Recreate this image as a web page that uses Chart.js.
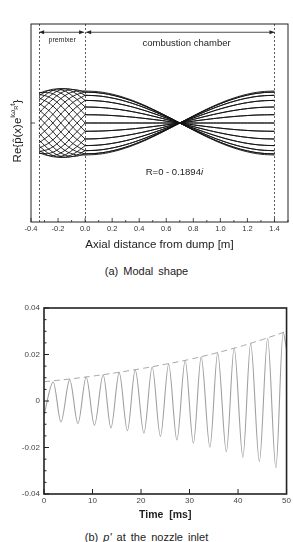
<!DOCTYPE html>
<html>
<head>
<meta charset="utf-8">
<script src="https://cdn.jsdelivr.net/npm/chart.js@4.4.1/dist/chart.umd.min.js"></script>
<style>
  body { margin: 0; background: #fff; width: 293px; height: 542px; overflow: hidden; position: relative; font-family: "Liberation Sans", Arial, sans-serif; }
  #modal { position: absolute; left: 0; top: 0; }
  #pulse { position: absolute; left: 0; top: 290px; }
  .cap { position: absolute; left: 0; width: 293px; text-align: center; font-size: 11px; line-height: 13px; color: #222; word-spacing: 2px; }
</style>
</head>
<body>
<canvas id="modal" width="293" height="255"></canvas>
<div class="cap" style="top:265px">(a) Modal shape</div>
<canvas id="pulse" width="293" height="240"></canvas>
<div class="cap" style="top:531px">(b) <i>p'</i> at the nozzle inlet</div>
<script>
// (a) mode shape p^(x) (real / imaginary part), read off the picture
// premixer part
const premixX  = [-0.34, -0.255, -0.17, -0.085, 0];
const premixRe = [0.07, 0.44, 0.77, 0.95, 0.97];
const premixIm = [-0.92, -0.91, -0.71, -0.37, 0];
// combustion chamber part (standing wave, real)
const chamberX  = [0, 0.1, 0.2, 0.3, 0.4, 0.5, 0.6, 0.7, 0.8, 0.9, 1.0, 1.1, 1.2, 1.3, 1.4];
const chamberRe = [0.97, 0.946, 0.874, 0.758, 0.605, 0.421, 0.216, 0, -0.216, -0.421, -0.605, -0.758, -0.874, -0.946, -0.97];
// time phases (omega_R t) of the plotted snapshots, degrees
const phaseDeg = [0, 15, 30, 45, 60, 75, 90, 105, 120, 135, 150, 165, 180, 195, 210, 225, 240, 255, 270, 285, 300, 315, 330, 345];
const xTicksA = [-0.4, -0.2, 0, 0.2, 0.4, 0.6, 0.8, 1.0, 1.2, 1.4];
const sectionX = [-0.34, 0, 1.4]; // premixer inlet, dump plane, chamber exit

// (b) pressure at the dump plane: extrema of the oscillation and dashed envelope
const pTime  = [0, 1.9, 3.5, 5.3, 7.0, 8.7, 10.4, 12.2, 13.8, 15.5, 17.2, 18.8, 20.6, 22.3, 24.0, 25.7, 27.4, 29.1, 30.8, 32.4, 34.2, 35.8, 37.6, 39.2, 41.0, 42.6, 44.4, 46.1, 47.8, 49.3, 50];
const pValue = [-0.006, 0.0082, -0.0090, 0.0092, -0.0097, 0.0103, -0.0104, 0.0113, -0.0116, 0.0122, -0.0128, 0.0134, -0.0138, 0.0146, -0.0152, 0.0158, -0.0168, 0.0174, -0.0182, 0.0190, -0.0199, 0.0206, -0.0218, 0.0228, -0.0242, 0.0248, -0.0260, 0.0270, -0.0287, 0.0296, 0.022];
const envTime  = [0, 5, 10, 15, 20, 25, 30, 35, 40, 45, 50];
const envValue = [0.0083, 0.0094, 0.0107, 0.0122, 0.0139, 0.0158, 0.0179, 0.0204, 0.0232, 0.0264, 0.0300];
const xTicksB = [0, 10, 20, 30, 40, 50];
const yTicksB = [-0.04, -0.02, 0, 0.02, 0.04];

const FONT = '"Liberation Sans", Arial, sans-serif';

// text made of runs (for sub/superscripts), optionally rotated
function drawRuns(ctx, runs, cx, cy, rotate, base) {
  ctx.save();
  ctx.translate(cx, cy);
  if (rotate) ctx.rotate(-Math.PI / 2);
  ctx.textAlign = 'left';
  ctx.textBaseline = 'alphabetic';
  let total = 0;
  runs.forEach(r => { ctx.font = r.size + 'px ' + FONT; r.w = ctx.measureText(r.text).width; total += r.w; });
  let x = -total / 2;
  runs.forEach(r => {
    ctx.font = (r.italic ? 'italic ' : '') + r.size + 'px ' + FONT;
    ctx.fillText(r.text, x, base + (r.dy || 0));
    x += r.w;
  });
  ctx.restore();
}

function frame(ctx, a, lw) {
  ctx.save();
  ctx.strokeStyle = '#222';
  ctx.lineWidth = lw;
  ctx.strokeRect(a.left, a.top, a.right - a.left, a.bottom - a.top);
  ctx.restore();
}

function xTicksIn(ctx, scale, a, values, len) {
  ctx.beginPath();
  values.forEach(v => {
    const px = scale.getPixelForValue(v);
    ctx.moveTo(px, a.bottom);
    ctx.lineTo(px, a.bottom - len);
  });
  ctx.stroke();
}

function yTicksIn(ctx, scale, a, values, len) {
  ctx.beginPath();
  values.forEach(v => {
    const py = scale.getPixelForValue(v);
    ctx.moveTo(a.left, py);
    ctx.lineTo(a.left + len, py);
  });
  ctx.stroke();
}

function arrow(ctx, x1, x2, y) {
  ctx.beginPath();
  ctx.moveTo(x1, y); ctx.lineTo(x2, y);
  ctx.stroke();
  [[x1, 1], [x2, -1]].forEach(([x, d]) => {
    ctx.beginPath();
    ctx.moveTo(x, y);
    ctx.lineTo(x + 5 * d, y - 2);
    ctx.lineTo(x + 5 * d, y + 2);
    ctx.closePath();
    ctx.fill();
  });
}

const modalDecor = {
  id: 'modalDecor',
  beforeDatasetsDraw(chart) {
    const { ctx, chartArea: a, scales: { x } } = chart;
    ctx.save();
    ctx.strokeStyle = '#333';
    ctx.lineWidth = 0.8;
    ctx.setLineDash([2, 2]);
    sectionX.forEach(v => {
      const px = Math.round(x.getPixelForValue(v)) + 0.5;
      ctx.beginPath();
      ctx.moveTo(px, a.top);
      ctx.lineTo(px, a.bottom);
      ctx.stroke();
    });
    ctx.restore();
  },
  afterDraw(chart) {
    const { ctx, chartArea: a, scales: { x, y } } = chart;
    frame(ctx, a, 1);
    ctx.save();
    ctx.strokeStyle = '#222';
    ctx.fillStyle = '#222';
    ctx.lineWidth = 0.8;
    xTicksIn(ctx, x, a, xTicksA, 4);
    xTicksIn(ctx, x, a, xTicksA.map(v => v + 0.1), 2);
    yTicksIn(ctx, y, a, [0], 4);

    // section arrows
    const ay = y.getPixelForValue(2.75);
    arrow(ctx, x.getPixelForValue(sectionX[0]), x.getPixelForValue(sectionX[1]) - 1, ay);
    arrow(ctx, x.getPixelForValue(sectionX[1]) + 1, x.getPixelForValue(sectionX[2]), ay);
    ctx.textAlign = 'center';
    ctx.textBaseline = 'middle';
    ctx.font = '7px ' + FONT;
    ctx.fillText('premixer', x.getPixelForValue(-0.17), y.getPixelForValue(2.5));
    ctx.font = '9.5px ' + FONT;
    ctx.fillText('combustion chamber', x.getPixelForValue(0.75), y.getPixelForValue(2.42));

    drawRuns(ctx, [
      { text: 'R=0 - 0.1894', size: 9.5 },
      { text: 'i', size: 9.5, italic: true }
    ], x.getPixelForValue(0.66), y.getPixelForValue(-1.48), false, 3.5);

    drawRuns(ctx, [
      { text: 'Re{p\u0302(x)e', size: 11.5 },
      { text: 'i\u03c9', size: 8, dy: -6 },
      { text: 'R', size: 5.5, dy: -3 },
      { text: 't', size: 8, dy: -6 },
      { text: '}', size: 11.5 }
    ], 17, 131, true, 4);
    ctx.restore();
  }
};

// Re{p^(x) e^(i w t)} at each snapshot, premixer and chamber as separate lines
const modalSets = [];
phaseDeg.forEach(d => {
  const r = d * Math.PI / 180;
  modalSets.push({
    data: premixX.map((xv, i) => ({ x: xv, y: premixRe[i] * Math.cos(r) - premixIm[i] * Math.sin(r) })),
    borderColor: '#111', borderWidth: 0.9, pointRadius: 0, tension: 0.4, fill: false
  });
  modalSets.push({
    data: chamberX.map((xv, i) => ({ x: xv, y: chamberRe[i] * Math.cos(r) })),
    borderColor: '#111', borderWidth: 0.9, pointRadius: 0, tension: 0.4, fill: false
  });
});

new Chart(document.getElementById('modal'), {
  type: 'line',
  data: { datasets: modalSets },
  options: {
    responsive: false,
    animation: false,
    devicePixelRatio: 1,
    layout: { padding: { left: 31, right: 5, top: 24, bottom: 0 } },
    plugins: { legend: { display: false }, tooltip: { enabled: false } },
    scales: {
      x: {
        type: 'linear',
        min: -0.4,
        max: 1.5,
        afterBuildTicks: s => { s.ticks = xTicksA.map(v => ({ value: v })); },
        afterFit: s => { s.height = 33; },
        grid: { display: false, drawTicks: false },
        border: { display: false },
        ticks: { padding: 2, color: '#333', font: { size: 7.5, family: FONT }, maxRotation: 0, callback: v => v.toFixed(1) },
        title: { display: true, text: 'Axial distance from dump [m]', color: '#222', font: { size: 11.5, family: FONT }, padding: { top: 0, bottom: 3 } }
      },
      y: { display: false, min: -3, max: 3 }
    }
  },
  plugins: [modalDecor]
});

const pulseDecor = {
  id: 'pulseDecor',
  afterDraw(chart) {
    const { ctx, chartArea: a, scales: { x, y } } = chart;
    frame(ctx, a, 1.6);
    ctx.save();
    ctx.strokeStyle = '#222';
    ctx.lineWidth = 1;
    xTicksIn(ctx, x, a, xTicksB, 5);
    yTicksIn(ctx, y, a, yTicksB, 5);
    const minor = [];
    yTicksB.slice(0, -1).forEach(v => { minor.push(v + 0.005, v + 0.01, v + 0.015); });
    yTicksIn(ctx, y, a, minor, 2.5);
    ctx.fillStyle = '#222';
    drawRuns(ctx, [
      { text: "p'(x", size: 9.5 },
      { text: 'dump', size: 6.5, dy: 2.5 },
      { text: ',t)', size: 9.5 }
    ], 14, 399, true, 3.5);
    ctx.restore();
  }
};

new Chart(document.getElementById('pulse'), {
  type: 'line',
  data: {
    datasets: [
      {
        data: pTime.map((t, i) => ({ x: t, y: pValue[i] })),
        borderColor: '#a0a0a0',
        borderWidth: 1.1,
        pointRadius: 0,
        cubicInterpolationMode: 'monotone',
        fill: false
      },
      {
        data: envTime.map((t, i) => ({ x: t, y: envValue[i] })),
        borderColor: '#a8a8a8',
        borderWidth: 1,
        borderDash: [6, 4],
        pointRadius: 0,
        tension: 0.4,
        fill: false
      }
    ]
  },
  options: {
    responsive: false,
    animation: false,
    devicePixelRatio: 1,
    layout: { padding: { left: 0, right: 3, top: 18, bottom: 0 } },
    plugins: { legend: { display: false }, tooltip: { enabled: false } },
    scales: {
      x: {
        type: 'linear',
        min: 0,
        max: 50,
        afterBuildTicks: s => { s.ticks = xTicksB.map(v => ({ value: v })); },
        afterFit: s => { s.height = 36; },
        grid: { display: false, drawTicks: false },
        border: { display: false },
        ticks: { padding: 2, color: '#444', font: { size: 8, family: FONT }, maxRotation: 0 },
        title: { display: true, text: 'Time  [ms]', color: '#222', font: { size: 10.5, family: FONT, weight: 'bold' }, padding: { top: 0, bottom: 9 } }
      },
      y: {
        min: -0.04,
        max: 0.04,
        afterBuildTicks: s => { s.ticks = yTicksB.map(v => ({ value: v })); },
        afterFit: s => { s.width = 44; },
        grid: { display: false, drawTicks: false },
        border: { display: false },
        ticks: { padding: 4, color: '#444', font: { size: 8, family: FONT }, callback: v => (v === 0 ? '0' : v.toFixed(2)) }
      }
    }
  },
  plugins: [pulseDecor]
});
</script>
</body>
</html>
